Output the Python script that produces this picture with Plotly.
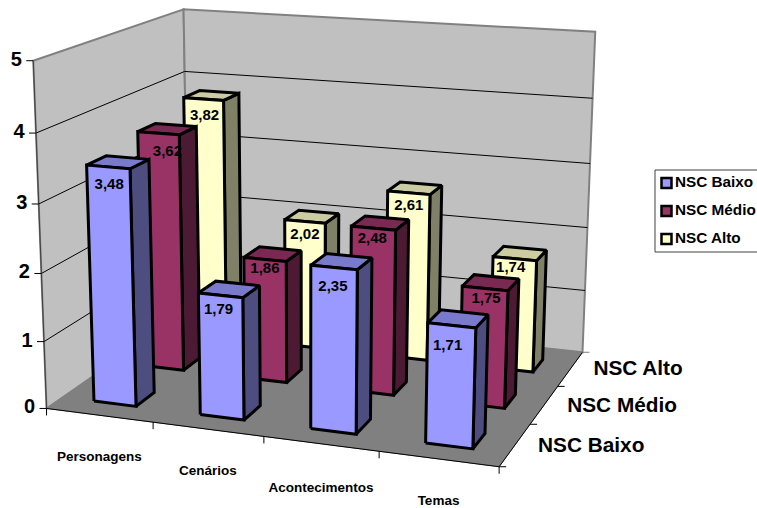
import numpy as np
import plotly.graph_objects as go

# Chart values
categories = ["Personagens", "Cenários", "Acontecimentos", "Temas"]
series_names = ["NSC Baixo", "NSC Médio", "NSC Alto"]
nsc_baixo = [3.48, 1.79, 2.35, 1.71]
nsc_medio = [3.62, 1.86, 2.48, 1.75]
nsc_alto = [3.82, 2.02, 2.61, 1.74]
value_ticks = [0, 1, 2, 3, 4, 5]

WIDTH, HEIGHT = 757, 508
FONT = "Liberation Sans, Arial, sans-serif"

# Fill colours per series: front, top and side faces
FACE_COLORS = [
    ("#9999FF", "#7A7ACC", "#4D4D80"),
    ("#993366", "#7A2952", "#4D1A33"),
    ("#FFFFCC", "#CCCCA3", "#808066"),
]

# Bar footprint inside each category/series cell
BAR_U, BAR_W = 0.30, 0.40
BAR_V, BAR_D = 0.30, 0.37

# Pixel offsets of the value labels from the top front edge of their bar
LABEL_DX = [[1, -2, -1, -4], [0, 0, -1, 1], [1, 0, 0, -4]]
LABEL_DY = [[18, 15, 20, 21], [19, 10, 11, 11], [17, 14, 13, 10]]
CATEGORY_DY = [42, 42, 45, 42.5]
SERIES_DY = [2, 2, 1]

# Perspective calibration: scene box corner (category, series, value) -> page pixel
CALIBRATION = [
    ((0, 0, 0), (46, 406)),
    ((4, 0, 0), (500, 468)),
    ((4, 3, 0), (582, 351)),
    ((0, 3, 0), (189, 312)),
    ((0, 0, 5), (33, 62)),
    ((4, 3, 5), (595, 32)),
    ((0, 3, 5), (184, 8)),
]


def solve_camera(pairs):
    rows = []
    for (u, v, z), (px, py) in pairs:
        rows.append([u, v, z, 1, 0, 0, 0, 0, -px * u, -px * v, -px * z, -px])
        rows.append([0, 0, 0, 0, u, v, z, 1, -py * u, -py * v, -py * z, -py])
    return np.linalg.svd(np.array(rows, float))[2][-1].reshape(3, 4)


CAMERA = solve_camera(CALIBRATION)


def project(u, v, z):
    x, y, w = CAMERA @ np.array([u, v, z, 1.0])
    return x / w, y / w


def polygon(points, fill, line="black", width=3):
    xy = [project(*p) for p in points]
    xs = [p[0] for p in xy] + [xy[0][0]]
    ys = [p[1] for p in xy] + [xy[0][1]]
    return go.Scatter(x=xs, y=ys, mode="lines", fill="toself", fillcolor=fill,
                      line=dict(color=line, width=width), hoverinfo="skip", showlegend=False)


def segment(p, q, color="black", width=1.0):
    a, b = project(*p), project(*q)
    return go.Scatter(x=[a[0], b[0]], y=[a[1], b[1]], mode="lines",
                      line=dict(color=color, width=width), hoverinfo="skip", showlegend=False)


def label(x, y, text, size, anchor="middle center"):
    return go.Scatter(x=[x], y=[y], mode="text", text=[text], textposition=anchor,
                      textfont=dict(family=FONT, size=size, color="black", weight="bold"),
                      hoverinfo="skip", showlegend=False)


def tick(u, v, z, dx, dy, color="black"):
    x, y = project(u, v, z)
    return go.Scatter(x=[x, x + dx], y=[y, y + dy], mode="lines",
                      line=dict(color=color, width=1), hoverinfo="skip", showlegend=False)


NU, NV, ZMAX = len(categories), len(series_names), value_ticks[-1]
fig = go.Figure()

# Walls and floor
fig.add_trace(polygon([(0, 0, 0), (0, NV, 0), (0, NV, ZMAX), (0, 0, ZMAX)], "#C0C0C0", "#808080", 2))
fig.add_trace(polygon([(0, NV, 0), (NU, NV, 0), (NU, NV, ZMAX), (0, NV, ZMAX)], "#C0C0C0", "#808080", 2))
fig.add_trace(polygon([(0, 0, 0), (NU, 0, 0), (NU, NV, 0), (0, NV, 0)], "#808080", "#808080", 1))

# Gridlines across both walls
for z in value_ticks[1:-1]:
    fig.add_trace(segment((0, 0, z), (0, NV, z)))
    fig.add_trace(segment((0, NV, z), (NU, NV, z)))

# Axis lines and tick marks
fig.add_trace(segment((0, 0, 0), (0, 0, ZMAX), "#404040", 1))
fig.add_trace(segment((0, 0, 0), (NU, 0, 0)))
fig.add_trace(segment((NU, 0, 0), (NU, NV, 0)))
for z in value_ticks:
    fig.add_trace(tick(0, 0, z, -7, 0))
    x, y = project(0, 0, z)
    fig.add_trace(label(x - 17, y, str(z), 20))
for i in range(NU + 1):
    fig.add_trace(tick(i, 0, 0, 0, 7))
for j in range(NV + 1):
    fig.add_trace(tick(NU, j, 0, 7, 0, "#808080" if j == NV else "black"))

# Bars, painted from the back row forward and from left to right
all_values = [nsc_baixo, nsc_medio, nsc_alto]
for j in reversed(range(NV)):
    front, top, side = FACE_COLORS[j]
    for i in range(NU):
        h = all_values[j][i]
        u0, u1 = i + BAR_U, i + BAR_U + BAR_W
        v0, v1 = j + BAR_V, j + BAR_V + BAR_D
        fig.add_trace(polygon([(u1, v0, 0), (u1, v1, 0), (u1, v1, h), (u1, v0, h)], side))
        fig.add_trace(polygon([(u0, v0, h), (u1, v0, h), (u1, v1, h), (u0, v1, h)], top))
        fig.add_trace(polygon([(u0, v0, 0), (u1, v0, 0), (u1, v0, h), (u0, v0, h)], front))
        x, y = project(i + 0.5, v0, h)
        nudge = 9 if (i, j) == (0, 1) else 0
        fig.add_trace(label(x + nudge + LABEL_DX[j][i], y + LABEL_DY[j][i],
                            f"{h:.2f}".replace(".", ","), 15))

# Axis labels
for i, name in enumerate(categories):
    x, y = project(i + 0.5, 0, 0)
    fig.add_trace(label(x, y + CATEGORY_DY[i], name, 13.5))
for j, name in enumerate(series_names):
    x, y = project(NU, j + 0.5, 0)
    fig.add_trace(label(x + 23, y + SERIES_DY[j], name, 20.8, "middle right"))

# Legend box with swatches and names
fig.add_shape(type="rect", x0=655, y0=170, x1=760, y1=252, line=dict(color="#404040", width=1),
              fillcolor="white", layer="between")
for j, name in enumerate(series_names):
    y = 183 + 28 * j
    fig.add_trace(go.Scatter(x=[666.5], y=[y], mode="markers",
                             marker=dict(symbol="square", size=10, color=FACE_COLORS[j][0],
                                         line=dict(color="black", width=2.5)),
                             hoverinfo="skip", showlegend=False))
    fig.add_trace(label(675, y, name, 15.3, "middle right"))

fig.update_layout(
    width=WIDTH, height=HEIGHT, margin=dict(l=0, r=0, t=0, b=0),
    paper_bgcolor="white", plot_bgcolor="white", showlegend=False,
    xaxis=dict(range=[0, WIDTH], visible=False, fixedrange=True),
    yaxis=dict(range=[HEIGHT, 0], visible=False, fixedrange=True),
)
fig.write_html("out.html", config={"displayModeBar": False})
